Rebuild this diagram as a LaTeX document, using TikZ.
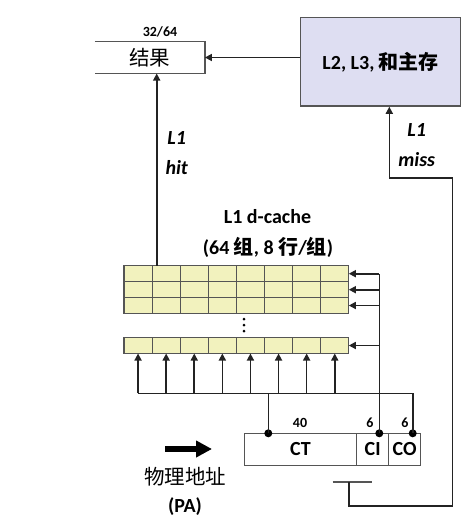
\documentclass[tikz,border=0pt]{standalone}
\usepackage{fontspec}
\setmainfont{Carlito}
\newfontfamily\cjk{Noto Sans CJK SC}
\usetikzlibrary{arrows.meta}
\definecolor{lc}{RGB}{35,35,35}
\definecolor{gc}{RGB}{85,85,85}
\definecolor{cellc}{RGB}{242,242,190}
\definecolor{l2c}{RGB}{222,222,242}
\begin{document}
\begin{tikzpicture}[x=1pt,y=-1pt,
  ln/.style={draw=lc, line width=1.6pt},
  arr/.style={ln,-{Triangle[length=7pt,width=7pt]}},
  cell/.style={draw=gc, line width=1.1pt, fill=cellc, minimum width=28.1pt, minimum height=16pt, inner sep=0pt, outer sep=0pt},
  txt/.style={font=\fontsize{20}{22}\selectfont\bfseries, inner sep=0pt},
  itxt/.style={font=\fontsize{20}{22}\selectfont\bfseries\itshape, inner sep=0pt},
  small/.style={font=\fontsize{14}{16}\selectfont\bfseries, inner sep=0pt},
  addr/.style={draw=gc, line width=1.3pt, minimum height=32.4pt, inner sep=0pt, outer sep=0pt, font=\fontsize{20}{22}\selectfont\bfseries},
  dot/.style={circle, fill=black, inner sep=0pt, minimum size=8pt},
  vdot/.style={circle, fill=black, inner sep=0pt, minimum size=3pt}
]
\useasboundingbox (0,0) rectangle (468,528);

% result box (open on the left)
\node[inner sep=0pt, minimum width=109.7pt, minimum height=31.6pt, font=\fontsize{20.5}{22}\selectfont\cjk] (res) at (149.85,57.5) {结果};
\draw[draw=gc, line width=1.4pt] (res.north west) -- (res.north east) -- (res.south east) -- (res.south west);
\node[small] (w) at (160,32) {32/64};

% L2 box
\node[draw=gc, line width=1.5pt, fill=l2c, minimum width=160pt, minimum height=88.3pt, txt] (l2) at (380.7,61.85) {L2, L3, {\cjk\bfseries 和主存}};
\draw[arr] (l2.west |- res.east) -- (res.east);

% cache grid
\foreach \r/\y in {1/273.7, 2/289.7, 3/305.5, 4/345.5}
  \foreach \c in {1,...,8}
    \node[cell] (c\r-\c) at ({124+28.1*(\c-0.5)}, \y) {};
\node[vdot] (v1) at (244,319) {};
\node[vdot] (v2) at (244,325) {};
\node[vdot] (v3) at (244,331) {};

\node[txt] (dc1) at (267.5,216.7) {L1 d-cache};
\node[txt] (dc2) at (268,247) {(64 {\cjk\bfseries 组}, 8 {\cjk\bfseries 行}/{\cjk\bfseries 组})};

% hit path
\coordinate (hitx) at (156.7,0);
\draw[arr] (hitx |- c1-1.north) -- (hitx |- res.south);
\node[itxt] (h1) at (176.7,138) {L1};
\node[itxt] (h2) at (176.7,168) {hit};

% address
\node[addr, minimum width=112.4pt] (ct) at (300.5,449.5) {CT};
\node[addr, minimum width=32pt, anchor=west] (ci) at (ct.east) {CI};
\node[addr, minimum width=32pt, anchor=west] (co) at (ci.east) {CO};
\node[small] (n40) at (300,423) {40};
\node[small] (n6a) at (370,423) {6};
\node[small] (n6b) at (405,423) {6};

\coordinate (bus) at (0,393.3);
\node[dot] (dct) at (268.3,433.3) {};
\node[dot] (dci) at (379.3,433.3) {};
\node[dot] (dco) at (412.7,433.3) {};

\draw[ln] (dci.center) -- (dci |- c1-8.east);
\foreach \r in {1,2,3,4}
  \draw[arr] (dci |- c\r-8.east) -- (c\r-8.east);
\draw[ln] (c4-1.south |- bus) -- (dco |- bus) -- (dco.center);
\draw[ln] (dct.center) -- (dct |- bus);
\foreach \c in {1,...,8}
  \draw[arr] (c4-\c.south |- bus) -- (c4-\c.south);

% physical address arrow + label
\coordinate (pa1) at (165,449);
\coordinate (pa2) at (212,449);
\draw[line width=6pt, -{Triangle[length=16pt,width=16pt]}] (pa1) -- (pa2);
\node[inner sep=0pt, font=\fontsize{20.5}{22}\selectfont\cjk] (pa) at (185,477) {物理地址};
\node[txt] (pb) at (185,507) {(PA)};

% miss path
\coordinate (t) at (348.7,481.7);
\coordinate (mx) at (389.3,177.7);
\coordinate (tl) at (332.7,481.7);
\coordinate (tr) at (372.3,481.7);
\draw[draw=gc, line width=1.6pt] (tl) -- (tr);
\draw[arr] (t) -- (348.7,505.7) -- (452.3,505.7) -- (452.3,177.7) -- (mx) -- (mx |- l2.south);
\node[itxt] (m1) at (416.7,130) {L1};
\node[itxt] (m2) at (416.7,160) {miss};
\end{tikzpicture}
\end{document}
